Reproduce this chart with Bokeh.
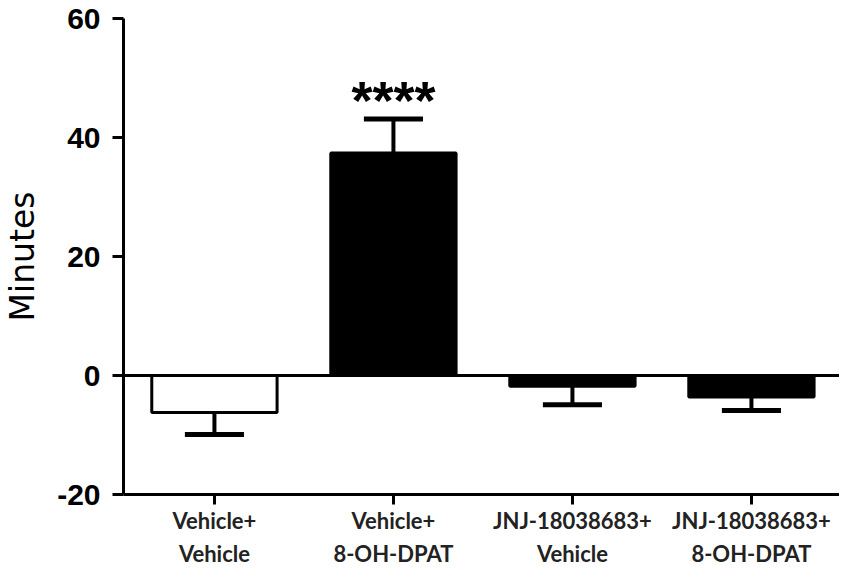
from bokeh.plotting import figure
from bokeh.models import ColumnDataSource, FixedTicker, Span
from bokeh.core.properties import value
from bokeh.embed import file_html
from bokeh.resources import INLINE

categories = ["Vehicle+\nVehicle", "Vehicle+\n8-OH-DPAT", "JNJ-18038683+\nVehicle", "JNJ-18038683+\n8-OH-DPAT"]
means = [-6.2, 37.4, -1.8, -3.6]
err_ends = [-9.9, 43.1, -4.9, -5.9]
fills = ["white", "black", "black", "black"]
stars = ["", "****", "", ""]
y_ticks = [-20, 0, 20, 40, 60]
y_tick_labels = ["-20", "0", "20", "40", "60"]

xs = list(range(len(categories)))
cap_half = 0.165

src = ColumnDataSource(dict(
    x=xs, top=means, err=err_ends, fill=fills, stars=stars,
    cx0=[x - cap_half for x in xs], cx1=[x + cap_half for x in xs],
))

p = figure(frame_width=716, frame_height=476, x_range=(-0.508, 3.492), y_range=(-20, 60),
           output_backend="svg", toolbar_location=None,
           min_border_left=118, min_border_top=18, min_border_right=0, min_border_bottom=72)
p.outline_line_color = None
p.xgrid.visible = False
p.ygrid.visible = False

# zero line
p.add_layout(Span(location=0, dimension="width", line_color="black", line_width=3))

# error stems and caps
p.segment(x0="x", x1="x", y0="top", y1="err", source=src, line_color="black", line_width=4)
p.segment(x0="cx0", x1="cx1", y0="err", y1="err", source=src, line_color="black", line_width=5)

p.vbar(x="x", top="top", bottom=0, width=0.70, source=src, fill_color="fill",
       line_color="black", line_width=3)

p.text(x="x", y="err", text="stars", source=src, text_align="center", text_baseline="alphabetic",
       text_font=value("Liberation Sans"), text_font_style="bold", text_font_size="54px",
       text_color="black", y_offset=-19)

# axes
for ax in (p.xaxis[0], p.yaxis[0]):
    ax.axis_line_width = 3
    ax.axis_line_color = "black"
    ax.major_tick_line_width = 3
    ax.major_tick_in = 0
    ax.minor_tick_line_color = None

p.yaxis.ticker = FixedTicker(ticks=y_ticks)
p.yaxis.major_label_overrides = {t: l for t, l in zip(y_ticks, y_tick_labels)}
p.yaxis.major_tick_out = 11
p.yaxis.major_label_standoff = 12
p.yaxis.major_label_text_font = "Liberation Sans"
p.yaxis.major_label_text_font_style = "bold"
p.yaxis.major_label_text_font_size = "30px"
p.yaxis.major_label_text_color = "black"
p.yaxis.axis_label = "Minutes"
p.yaxis.axis_label_text_font = "DejaVu Sans"
p.yaxis.axis_label_text_font_style = "normal"
p.yaxis.axis_label_text_font_size = "33px"
p.yaxis.axis_label_text_color = "black"
p.yaxis.axis_label_standoff = 12

p.xaxis.ticker = FixedTicker(ticks=xs)
p.xaxis.major_label_overrides = {x: c for x, c in zip(xs, categories)}
p.xaxis.major_tick_out = 10
p.xaxis.major_label_standoff = 2
p.xaxis.major_label_text_font = "Lato"
p.xaxis.major_label_text_font_style = "bold"
p.xaxis.major_label_text_font_size = "22px"
p.xaxis.major_label_text_color = "#222222"
p.xaxis.major_label_text_line_height = 1.25

open("out.html", "w").write(file_html(p, INLINE))
